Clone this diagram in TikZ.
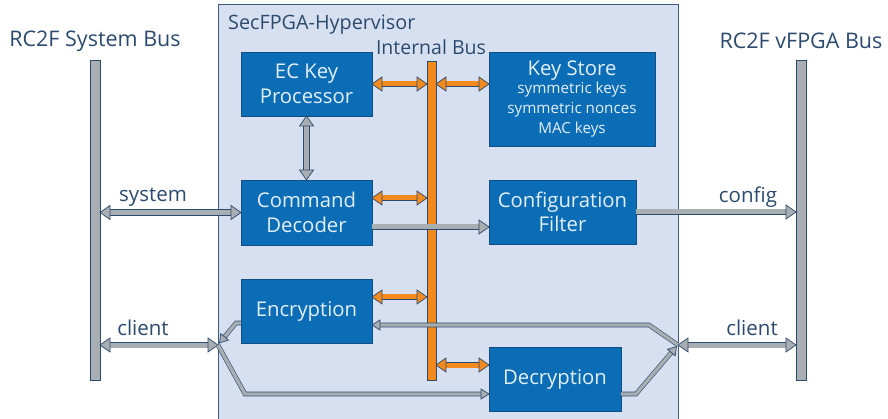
\documentclass[tikz,border=0pt]{standalone}
\usepackage{fontspec}
\setmainfont{Open Sans}
\usetikzlibrary{calc}

\definecolor{hvfill}{HTML}{D6E0F1}
\definecolor{hvedge}{HTML}{3D5A80}
\definecolor{boxfill}{HTML}{0A6DB6}
\definecolor{boxedge}{HTML}{114E85}
\definecolor{boxtext}{HTML}{E4EFFA}
\definecolor{barfill}{HTML}{A8AEB1}
\definecolor{edge}{HTML}{2C4A6E}
\definecolor{busorange}{HTML}{F28A1E}
\definecolor{labeltext}{HTML}{2C4A6E}

% arrow head: #1 point behind the tip, #2 apex, #3 fill, #4 length, #5 half width
\newcommand\arrowhead[5]{%
  \coordinate (tipbase) at ($(#2)!#4!(#1)$);
  \filldraw[draw=edge, fill=#3, line width=.7pt, line join=miter]
    (#2) -- ($(tipbase)!#5!90:(#2)$) -- ($(tipbase)!#5!-90:(#2)$) -- cycle;}
\newcommand\bighead[2]{\arrowhead{#1}{#2}{barfill}{10pt}{7pt}}
\newcommand\orhead[2]{\arrowhead{#1}{#2}{busorange}{10pt}{7pt}}
\newcommand\thinhead[2]{\arrowhead{#1}{#2}{barfill}{8pt}{5pt}}
\newcommand\subline[1]{{\fontsize{15.2}{18}\selectfont #1}}

\tikzset{
  unit/.style={draw=boxedge, fill=boxfill, line width=.8pt, text=boxtext,
    align=center, inner sep=0pt, outer sep=0pt,
    font=\fontsize{20.3}{24.5}\selectfont},
  busbar/.style={draw=edge, fill=barfill, line width=.8pt, inner sep=0pt,
    outer sep=0pt, minimum width=10pt, minimum height=320pt},
  lbl/.style={text=labeltext, font=\fontsize{20.5}{24}\selectfont, inner sep=0pt},
  title/.style={text=labeltext, font=\fontsize{21.5}{25}\selectfont, inner sep=0pt},
  bigpipe/.style={draw=edge, line width=.7pt, double=barfill, double distance=5pt},
  orpipe/.style={draw=edge, line width=.7pt, double=busorange, double distance=5pt},
  thinpipe/.style={draw=edge, line width=.6pt, double=barfill, double distance=3.4pt},
}

\begin{document}
\begin{tikzpicture}[x=1pt, y=-1pt]
\clip (0,0) rectangle (888,419);

% hypervisor frame
\draw[draw=hvedge, fill=hvfill, line width=.8pt] (218,4) rectangle (678,440);
\node[lbl, anchor=base west, font=\fontsize{19.8}{24}\selectfont] (hvtitle) at (228,30) {SecFPGA-Hypervisor};
\node[lbl, anchor=base, font=\fontsize{19.5}{24}\selectfont] (ibustitle) at (431,55) {Internal Bus};

% external buses
\node[busbar] (sysbus) at (95,220) {};
\node[busbar] (vbus) at (801,220) {};
\node[title, anchor=base] (systitle) at (95,47) {RC2F System Bus};
\node[title, anchor=base] (vtitle) at (801,49) {RC2F vFPGA Bus};

% internal bus
\node[draw=edge, fill=busorange, line width=.8pt, inner sep=0pt, outer sep=0pt,
  minimum width=9pt, minimum height=319pt] (ibus) at (431.5,220.5) {};

% functional units
\node[unit, minimum width=131pt, minimum height=64pt] (ec) at (306.5,84) {EC Key\\Processor};
\node[unit, minimum width=166pt, minimum height=94pt] (ks) at (572,99)
  {Key Store\\[-6pt]\subline{symmetric keys}\\[-4.5pt]
   \subline{symmetric nonces}\\[-4.5pt]\subline{MAC keys}};
\node[unit, minimum width=131pt, minimum height=65pt] (cmd) at (306.5,212.5) {Command\\Decoder};
\node[unit, minimum width=147pt, minimum height=64pt] (cfg) at (562.5,212) {Configuration\\Filter};
\node[unit, minimum width=131pt, minimum height=64pt] (enc) at (306.5,311) {Encryption};
\node[unit, minimum width=132pt, minimum height=64pt] (dec) at (555,379) {Decryption};

% junction points of the client channel
\coordinate (jl) at (218,345);
\coordinate (jr) at (678,345);

% internal bus links
\coordinate (o1a) at (ec.east);
\coordinate (o1b) at (ibus.west |- ec.east);
\coordinate (o2a) at (ibus.east |- ec.east);
\coordinate (o2b) at (ks.west |- ec.east);
\coordinate (o3a) at ([yshift=14.5pt]cmd.east);
\coordinate (o3b) at (ibus.west |- o3a);
\coordinate (o4a) at ([yshift=14pt]enc.east);
\coordinate (o4b) at (ibus.west |- o4a);
\coordinate (o5b) at ([yshift=14pt]dec.west);
\coordinate (o5a) at (ibus.east |- o5b);
\foreach \a/\b in {o1a/o1b, o2a/o2b, o3a/o3b, o4a/o4b, o5a/o5b}{
  \draw[orpipe, shorten <=9pt, shorten >=9pt] (\a) -- (\b);
  \orhead{\b}{\a}
  \orhead{\a}{\b}
}

% EC key processor <-> command decoder
\draw[bigpipe, shorten <=9pt, shorten >=9pt] (ec.south) -- (cmd.north);
\bighead{cmd.north}{ec.south}
\bighead{ec.south}{cmd.north}

% system channel
\coordinate (s1) at (sysbus.east |- cmd.west);
\draw[bigpipe, shorten <=9pt, shorten >=9pt] (s1) -- (cmd.west);
\bighead{cmd.west}{s1}
\bighead{s1}{cmd.west}
\node[lbl, anchor=base] (syslbl) at (153,202) {system};

% command decoder -> configuration filter
\coordinate (c1) at ([yshift=-14.5pt]cmd.east);
\coordinate (c2) at (cfg.west |- c1);
\draw[bigpipe, shorten >=9pt] (c1) -- (c2);
\bighead{c1}{c2}

% configuration filter -> vFPGA bus
\coordinate (f1) at (vbus.west |- cfg.east);
\draw[bigpipe, shorten >=9pt] (cfg.east) -- (f1);
\bighead{cfg.east}{f1}
\node[lbl, anchor=base] (cfglbl) at (748,203) {config};

% client channel on both sides
\coordinate (cl) at (sysbus.east |- jl);
\draw[bigpipe, shorten <=9pt, shorten >=9pt] (cl) -- (jl);
\bighead{jl}{cl}
\bighead{cl}{jl}
\node[lbl, anchor=base] (cllbl) at (143,335) {client};
\coordinate (cr) at (vbus.west |- jr);
\draw[bigpipe, shorten <=9pt, shorten >=9pt] (jr) -- (cr);
\bighead{cr}{jr}
\bighead{jr}{cr}
\node[lbl, anchor=base] (crlbl) at (752,335) {client};

% encryption output to the system side
\coordinate (e1) at ([yshift=-12pt]enc.west);
\coordinate (e2) at ([xshift=-5pt]e1);
\coordinate (e3) at (219.5,343);
\draw[thinpipe, shorten >=7pt] (e1) -- (e2) -- (e3);
\thinhead{e2}{e3}

% system side to decryption
\coordinate (d1) at (245,394);
\coordinate (d2) at ([yshift=-15pt]dec.west);
\draw[thinpipe, shorten >=7pt] (jl) -- (d1) -- (d2);
\thinhead{d1}{d2}

% decryption output to the vFPGA side
\coordinate (r1) at ([yshift=-15pt]dec.east);
\coordinate (r2) at (636,394);
\coordinate (r3) at (676.5,346.5);
\draw[thinpipe, shorten >=7pt] (r1) -- (r2) -- (r3);
\thinhead{r2}{r3}

% vFPGA side to encryption
\coordinate (u1) at (649,325);
\coordinate (u2) at ([yshift=-14pt]enc.east);
\draw[thinpipe, shorten >=7pt] (jr) -- (u1) -- (u2);
\thinhead{u1}{u2}
\end{tikzpicture}
\end{document}
